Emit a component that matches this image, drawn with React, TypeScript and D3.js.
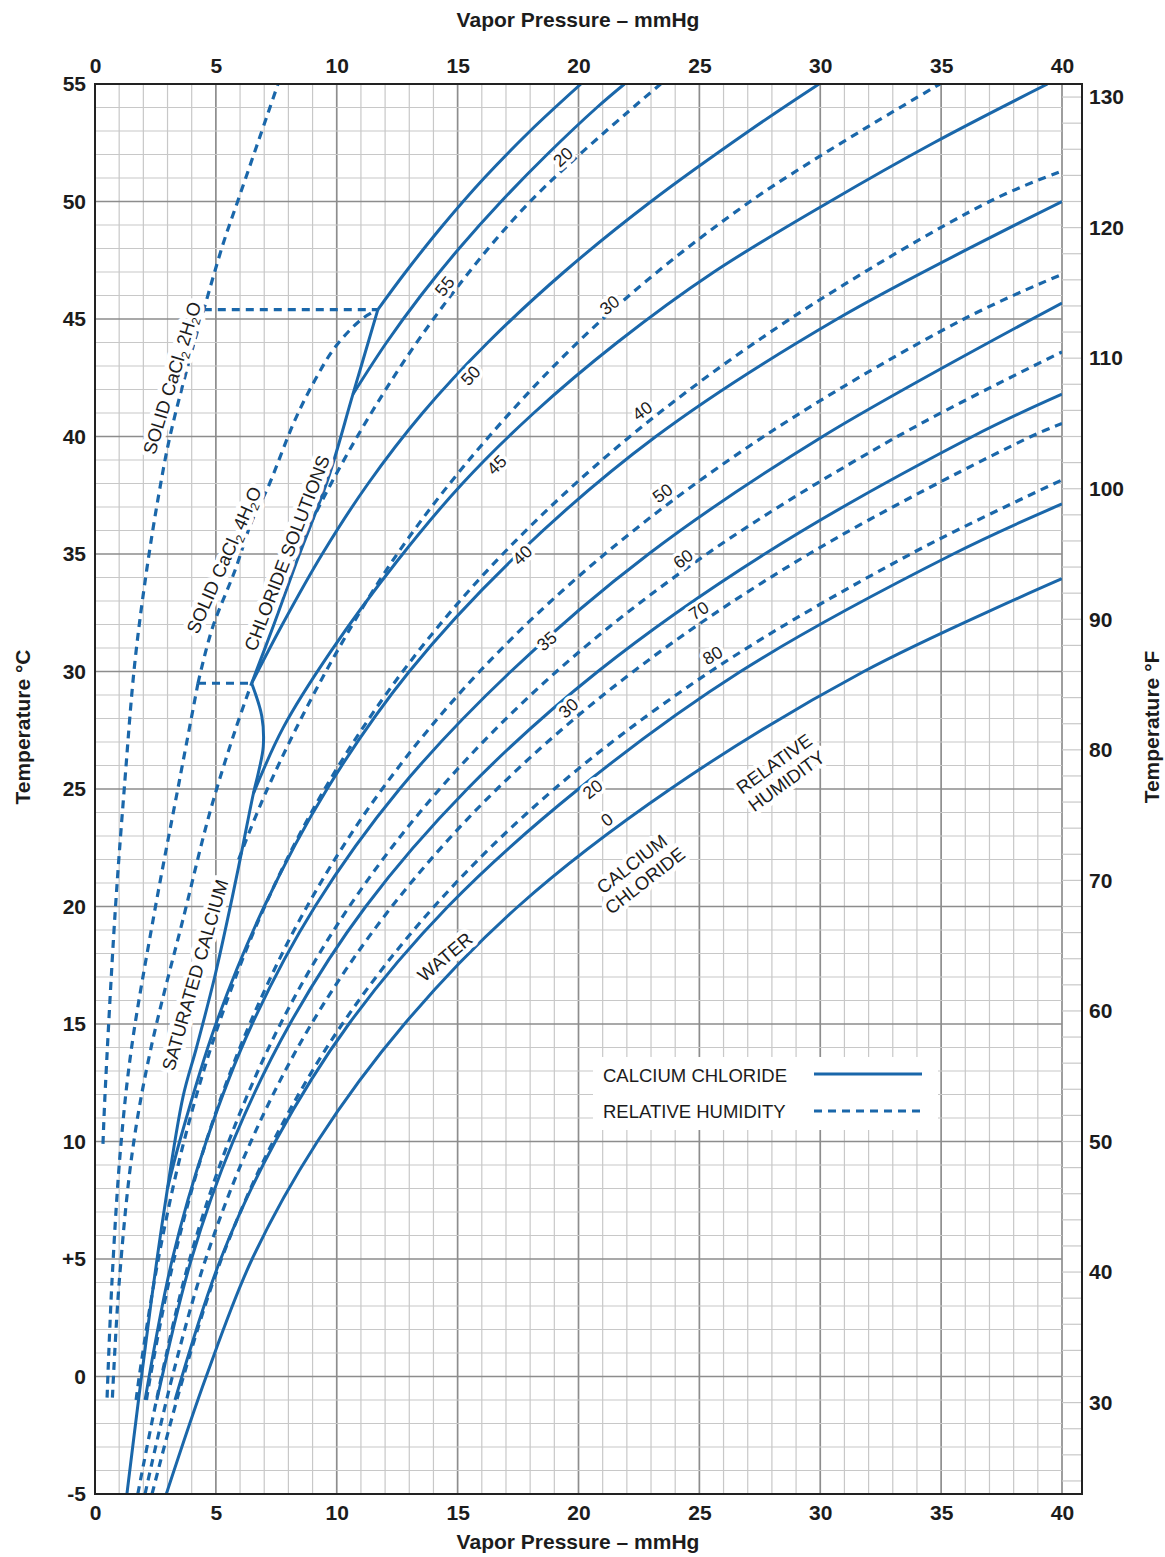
import * as d3 from "d3";
import { useEffect, useRef } from "react";

type Pt = [number, number]; // [temperature °C, vapor pressure mmHg]

const pressureTicks = [0, 5, 10, 15, 20, 25, 30, 35, 40];
const celsiusTicks = [-5, 0, 5, 10, 15, 20, 25, 30, 35, 40, 45, 50, 55];
const fahrenheitTicks = [30, 40, 50, 60, 70, 80, 90, 100, 110, 120, 130];

// calcium chloride solutions (% CaCl2)
const water: Pt[] = [[-5, 2.95], [0, 4.6], [5, 6.5], [10, 9.2], [15, 12.8], [20, 17.5], [25, 23.8], [30, 31.8], [33.95, 40]];
const cc20: Pt[] = [[-1, 3.31], [5, 5.2], [10, 7.46], [15, 10.5], [20, 14.6], [25, 20.0], [30, 26.7], [35, 35.5], [37.13, 40]];
const cc30: Pt[] = [[-1, 2.56], [5, 3.99], [10, 5.71], [15, 8.06], [20, 11.2], [25, 15.4], [30, 20.8], [35, 27.7], [40, 36.3], [41.8, 40]];
const cc35: Pt[] = [[-1, 2.07], [5, 3.2], [10, 4.6], [15, 6.5], [20, 9.1], [25, 12.6], [30, 17.2], [35, 22.9], [40, 30.1], [45.68, 40]];
const cc40: Pt[] = [[8, 3.0], [10, 3.5], [15, 5.0], [20, 7.0], [25, 9.6], [30, 13.0], [35, 17.5], [40, 23.2], [45, 30.7], [50, 40]];
const cc45: Pt[] = [[24.8, 6.55], [27.6, 7.78], [30.8, 9.72], [34.7, 12.5], [38, 15.2], [41, 18.15], [44, 21.6], [47, 25.6], [50, 30.4], [52.5, 34.7], [55, 39.4]];
const cc50: Pt[] = [[29.5, 6.48], [32, 7.75], [35, 9.4], [38, 11.3], [41, 13.55], [44, 16.25], [47, 19.4], [50, 23.0], [53, 27.05], [55, 29.95]];
const cc55: Pt[] = [[41.8, 10.67], [44, 12.06], [46, 13.48], [48, 15.06], [50, 16.8], [52, 18.7], [54, 20.76], [55, 21.9]];

// saturated solution boundary (hexahydrate, tetrahydrate, dihydrate)
const satHexa: Pt[] = [[-5, 1.32], [-1, 1.8], [3, 2.3], [7, 2.85], [11.9, 3.64], [14, 4.2], [17, 4.95], [20.4, 5.68], [22.5, 6.1], [24.8, 6.55], [25.7, 6.76], [26.8, 6.96], [28.1, 6.9], [29.5, 6.48]];
const satTetra: Pt[] = [[29.5, 6.48], [32, 7.4], [34.7, 8.35], [38.2, 9.64], [41.8, 10.67], [45.4, 11.7]];
const satDi: Pt[] = [[45.4, 11.7], [47, 12.85], [49, 14.4], [51, 16.1], [53, 18.0], [55, 20.1]];

// solid hydrate lines (dashed)
const solid2H2O: Pt[] = [[9.9, 0.33], [11.9, 0.41], [19.7, 0.83], [25.4, 1.24], [30.4, 1.65], [34.4, 2.15], [37.6, 2.65], [40, 3.1], [43.8, 4.05], [45.4, 4.5], [48.2, 5.3], [50, 5.9], [55, 7.57]];
const solid4H2O: Pt[] = [[29.5, 4.26], [31.8, 4.84], [34.3, 5.79], [36.4, 6.49], [37.85, 7.16], [40.7, 8.27], [42.4, 9.1], [43.8, 9.93], [45.0, 11.04], [45.4, 11.7]];
const solid6H2Oa: Pt[] = [[-0.9, 0.5], [4, 0.7], [9.6, 1.05], [13.9, 1.5], [19.7, 2.45], [25.4, 3.5], [29.5, 4.26]];
const solid6H2Ob: Pt[] = [[-0.9, 0.72], [4, 1.0], [9.6, 1.55], [13.9, 2.3], [19.7, 3.7], [24, 4.75], [27.5, 5.8], [29.5, 6.48]];
const tieUpper: Pt[] = [[45.4, 4.5], [45.4, 11.7]];
const tieLower: Pt[] = [[29.5, 4.26], [29.5, 6.48]];

// relative humidity, %
const rh20: Pt[] = [[33, 7.5], [35, 8.3], [40, 10.85], [45, 14.0], [50, 18.0], [55, 23.4]];
const rh30: Pt[] = [[22, 5.94], [25, 7.13], [30, 9.55], [35, 12.5], [40, 16.3], [45, 21.0], [50, 27.1], [55, 34.95]];
const rh40: Pt[] = [[-1, 1.7], [0, 1.83], [5, 2.62], [10, 3.68], [15, 5.12], [20, 7.02], [25, 9.5], [30, 12.73], [35, 16.87], [40, 22.13], [45, 28.75], [50, 37.0], [51.3, 40]];
const rh50: Pt[] = [[-1, 2.13], [0, 2.29], [5, 3.27], [10, 4.6], [15, 6.4], [20, 8.77], [25, 11.88], [30, 15.91], [35, 21.09], [40, 27.66], [45, 35.94], [46.9, 40]];
const rh60: Pt[] = [[-5, 1.77], [0, 2.75], [5, 3.92], [10, 5.53], [15, 7.67], [20, 10.52], [25, 14.26], [30, 19.09], [35, 25.31], [40, 33.19], [43.6, 40]];
const rh70: Pt[] = [[-5, 2.07], [0, 3.2], [5, 4.58], [10, 6.45], [15, 8.95], [20, 12.28], [25, 16.63], [30, 22.27], [35, 29.53], [40, 38.72], [40.55, 40]];
const rh80: Pt[] = [[-5, 2.36], [0, 3.66], [5, 5.23], [10, 7.37], [15, 10.23], [20, 14.03], [25, 19.0], [30, 25.46], [35, 33.74], [38.15, 40]];

const ccCurves = [water, cc20, cc30, cc35, cc40, cc45, cc50, cc55];
const ccNames = ["0", "20", "30", "35", "40", "45", "50", "55"];
const ccLabelTemp = [23.7, 25.0, 28.45, 31.3, 34.96, 38.8, 42.6, 46.4];
const ccLabelShift = [-24, 14, 11, 0, 5, 15, 13, 16];
const rhCurves = [rh20, rh30, rh40, rh50, rh60, rh70, rh80];
const rhNames = ["20", "30", "40", "50", "60", "70", "80"];
const rhLabelTemp = [51.9, 45.6, 41.1, 37.6, 34.8, 32.6, 30.7];
const rhLabelShift = [-17, -11, -23, -25, -18, -26, -26];

const BLUE = "#1a67aa";
const INK = "#1c1c1c";
const narrow = "'Liberation Sans Narrow', 'Arial Narrow', 'Liberation Sans', Arial, sans-serif";
const sans = "'Liberation Sans', Arial, Helvetica, sans-serif";

function pAt(pts: Pt[], t: number) {
  if (t <= pts[0][0]) return pts[0][1];
  for (let i = 0; i < pts.length - 1; i++) {
    const a = pts[i], b = pts[i + 1];
    if (t >= a[0] && t <= b[0]) return a[1] + ((t - a[0]) / (b[0] - a[0])) * (b[1] - a[1]);
  }
  return pts[pts.length - 1][1];
}

export default function App() {
  const ref = useRef<SVGSVGElement>(null);

  useEffect(() => {
    const svg = d3.select(ref.current);
    svg.selectAll("*").remove();

    const x = d3.scaleLinear().domain([0, 40]).range([95, 1062]);
    const y = d3.scaleLinear().domain([-5, 55]).range([1494, 84]);
    const yF = d3.scaleLinear().domain([23, 131]).range([1494, 84]);

    svg.append("rect").attr("width", 1165).attr("height", 1557).attr("fill", "#fff");

    // grid
    const grid = svg.append("g");
    d3.range(0, 41).forEach((p) => {
      grid.append("line")
        .attr("x1", x(p)).attr("x2", x(p)).attr("y1", 84).attr("y2", 1494)
        .attr("stroke", p % 5 === 0 ? "#8d8d8d" : "#c8c8c8")
        .attr("stroke-width", p % 5 === 0 ? 1.7 : 1.2);
    });
    d3.range(-5, 56).forEach((t) => {
      grid.append("line")
        .attr("x1", 95).attr("x2", 1062).attr("y1", y(t)).attr("y2", y(t))
        .attr("stroke", t % 5 === 0 ? "#8d8d8d" : "#c8c8c8")
        .attr("stroke-width", t % 5 === 0 ? 1.7 : 1.2);
    });
    d3.range(24, 131, 2).forEach((f) => {
      grid.append("line")
        .attr("x1", 1062).attr("x2", 1082).attr("y1", yF(f)).attr("y2", yF(f))
        .attr("stroke", "#c8c8c8").attr("stroke-width", 1.2);
    });

    svg.append("clipPath").attr("id", "plot-clip")
      .append("rect").attr("x", 95).attr("y", 84).attr("width", 967).attr("height", 1410);

    const line = d3.line<Pt>()
      .x((d) => x(d[1]))
      .y((d) => y(d[0]))
      .curve(d3.curveCatmullRom.alpha(0.5));
    const straight = d3.line<Pt>().x((d) => x(d[1])).y((d) => y(d[0]));

    const curves = svg.append("g").attr("clip-path", "url(#plot-clip)")
      .attr("fill", "none").attr("stroke", BLUE);

    const dashed = [...rhCurves, solid2H2O, solid4H2O, solid6H2Oa, solid6H2Ob];
    dashed.forEach((c) => {
      curves.append("path").attr("d", line(c))
        .attr("stroke-width", 3.2).attr("stroke-dasharray", "8,6");
    });
    [tieUpper, tieLower].forEach((c) => {
      curves.append("path").attr("d", straight(c))
        .attr("stroke-width", 3.2).attr("stroke-dasharray", "8,6");
    });
    [...ccCurves, satHexa, satTetra, satDi].forEach((c) => {
      curves.append("path").attr("d", line(c)).attr("stroke-width", 3);
    });

    // frame
    svg.append("rect").attr("x", 95).attr("y", 84).attr("width", 987).attr("height", 1410)
      .attr("fill", "none").attr("stroke", "#222").attr("stroke-width", 2);

    // curve labels, rotated along their lines
    const labels = svg.append("g").attr("font-family", sans).attr("font-size", 17.5).attr("fill", INK);
    const placeLabel = (pts: Pt[], t: number, shift: number, txt: string) => {
      const p1 = pAt(pts, t - 0.6), p2 = pAt(pts, t + 0.6);
      const dx = x(p2) - x(p1), dy = y(t + 0.6) - y(t - 0.6);
      const ang = (Math.atan2(dy, dx) * 180) / Math.PI;
      const cx = x(pAt(pts, t)) + shift;
      const cy = y(t);
      labels.append("text")
        .attr("transform", `translate(${cx},${cy}) rotate(${ang})`)
        .attr("text-anchor", "middle").attr("dy", "0.36em")
        .attr("stroke", "#fff").attr("stroke-width", 7).attr("stroke-linejoin", "round")
        .attr("paint-order", "stroke")
        .text(txt);
    };
    ccCurves.forEach((c, i) => placeLabel(c, ccLabelTemp[i], ccLabelShift[i], ccNames[i]));
    rhCurves.forEach((c, i) => placeLabel(c, rhLabelTemp[i], rhLabelShift[i], rhNames[i]));

    // annotations: a white halo copy first, then the ink copy
    const halo = svg.append("g").attr("font-family", sans).attr("font-size", 18.5)
      .attr("fill", "#fff").attr("stroke", "#fff").attr("stroke-width", 9)
      .attr("stroke-linejoin", "round").attr("text-anchor", "middle");
    const ink = svg.append("g").attr("font-family", sans).attr("font-size", 18.5)
      .attr("fill", INK).attr("text-anchor", "middle");

    const hydrate = (cx: number, cy: number, ang: number, n: string) => {
      [halo, ink].forEach((g) => {
        const t = g.append("text")
          .attr("transform", `translate(${cx},${cy}) rotate(${ang})`).attr("dy", "0.35em");
        t.append("tspan").text("SOLID CaCl");
        t.append("tspan").attr("font-size", 12).attr("dy", 4).text("2");
        t.append("tspan").attr("dy", -4).text(" " + n + "H");
        t.append("tspan").attr("font-size", 12).attr("dy", 4).text("2");
        t.append("tspan").attr("dy", -4).text("O");
      });
    };
    const note = (cx: number, cy: number, ang: number, lines: string[]) => {
      [halo, ink].forEach((g) => {
        const t = g.append("text").attr("transform", `translate(${cx},${cy}) rotate(${ang})`);
        lines.forEach((s, i) => {
          t.append("tspan").attr("x", 0)
            .attr("dy", i === 0 ? (lines.length > 1 ? "-0.2em" : "0.35em") : "1.15em")
            .text(s);
        });
      });
    };
    hydrate(172, 378, -73, "2");
    hydrate(224, 560, -66, "4");
    note(287, 553, -69, ["CHLORIDE SOLUTIONS"]);
    note(195, 975, -74, ["SATURATED CALCIUM"]);
    note(445, 957, -40, ["WATER"]);
    note(638, 872, -38, ["CALCIUM", "CHLORIDE"]);
    note(780, 772, -36, ["RELATIVE", "HUMIDITY"]);

    // legend
    const lg = svg.append("g");
    lg.append("rect").attr("x", 593).attr("y", 1057).attr("width", 345).attr("height", 73).attr("fill", "#fff");
    lg.append("text").attr("x", 603).attr("y", 1082).attr("font-family", sans).attr("font-size", 18.5)
      .attr("fill", INK).text("CALCIUM CHLORIDE");
    lg.append("text").attr("x", 603).attr("y", 1118).attr("font-family", sans).attr("font-size", 18.5)
      .attr("fill", INK).text("RELATIVE HUMIDITY");
    lg.append("line").attr("x1", 814).attr("x2", 922).attr("y1", 1074).attr("y2", 1074)
      .attr("stroke", BLUE).attr("stroke-width", 3);
    lg.append("line").attr("x1", 814).attr("x2", 922).attr("y1", 1111).attr("y2", 1111)
      .attr("stroke", BLUE).attr("stroke-width", 3.2).attr("stroke-dasharray", "8,6");

    // axes
    const styleAxis = (g: d3.Selection<SVGGElement, unknown, null, undefined>) => {
      g.select(".domain").remove();
      g.attr("font-family", narrow).attr("font-size", 21).attr("font-weight", "bold");
      g.selectAll("text").attr("fill", INK);
    };
    svg.append("g").attr("transform", "translate(0,84)")
      .call(d3.axisTop(x).tickValues(pressureTicks).tickSize(0).tickPadding(11))
      .call(styleAxis);
    svg.append("g").attr("transform", "translate(0,1494)")
      .call(d3.axisBottom(x).tickValues(pressureTicks).tickSize(0).tickPadding(11))
      .call(styleAxis);
    svg.append("g").attr("transform", "translate(95,0)")
      .call(d3.axisLeft(y).tickValues(celsiusTicks).tickSize(0).tickPadding(9)
        .tickFormat((d) => (+d === 5 ? "+5" : +d < 0 ? "-" + Math.abs(+d) : String(d))))
      .call(styleAxis);
    svg.append("g").attr("transform", "translate(1082,0)")
      .call(d3.axisRight(yF).tickValues(fahrenheitTicks).tickSize(0).tickPadding(7))
      .call(styleAxis);

    const titles = svg.append("g").attr("font-family", narrow).attr("font-size", 21)
      .attr("font-weight", "bold").attr("fill", INK).attr("text-anchor", "middle");
    titles.append("text").attr("x", 578).attr("y", 27).text("Vapor Pressure – mmHg");
    titles.append("text").attr("x", 578).attr("y", 1549).text("Vapor Pressure – mmHg");
    titles.append("text").attr("transform", "translate(30,727) rotate(-90)").text("Temperature °C");
    titles.append("text").attr("transform", "translate(1159,727) rotate(-90)").text("Temperature °F");
  }, []);

  return (
    <svg
      ref={ref}
      width={1165}
      height={1557}
      style={{ position: "absolute", left: 0, top: 0, display: "block" }}
    />
  );
}
